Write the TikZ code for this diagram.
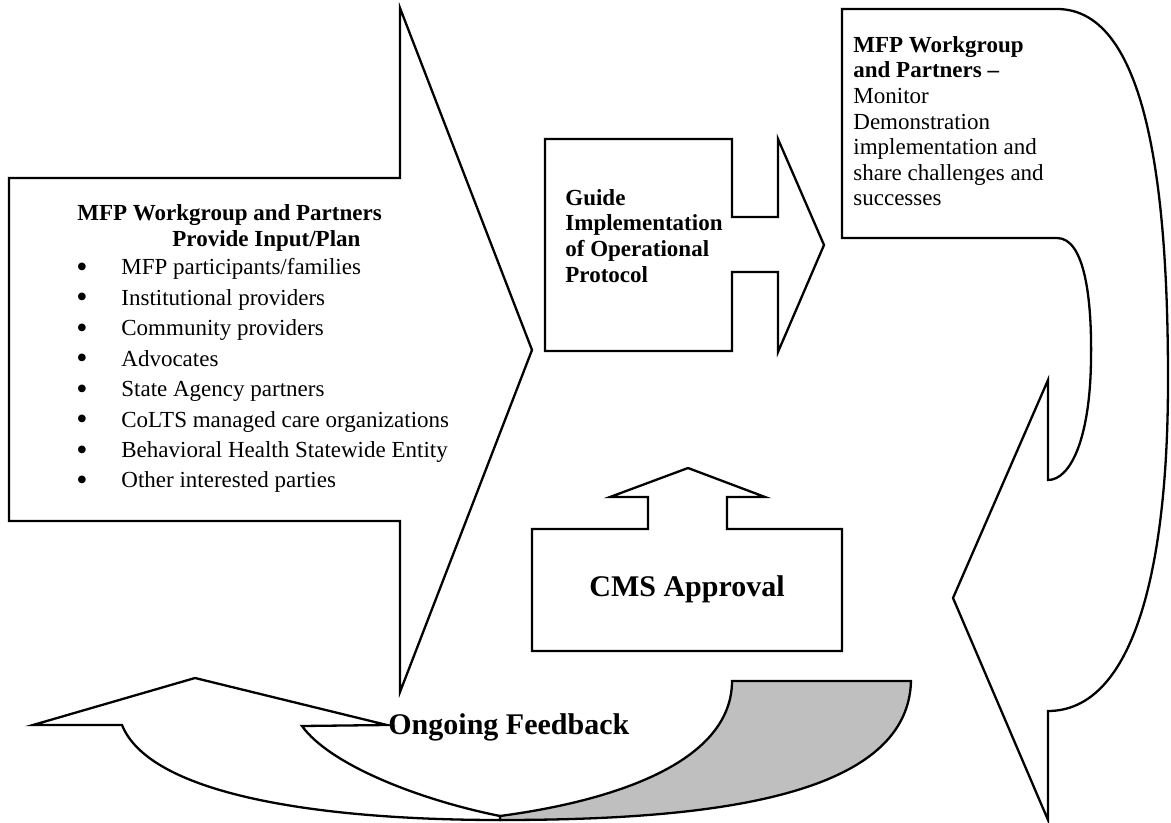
\documentclass[tikz,border=0pt]{standalone}
\usepackage{fontspec}
\setmainfont{Liberation Serif}

\newcommand{\bulletitem}[1]{\makebox[22.5pt][l]{\raisebox{-1.3pt}{\fontsize{16}{16}\selectfont\textbullet}}#1}

\tikzset{
    block/.style={draw=black, line width=1.15pt, line join=miter, fill=white},
    plain text/.style={font=\fontsize{11.5}{12.8}\selectfont, inner sep=0pt, align=left},
    bold text/.style={plain text, font=\fontsize{11.5}{12.8}\selectfont\bfseries},
    big text/.style={font=\fontsize{15}{18}\selectfont\bfseries, inner sep=0pt},
}

\begin{document}
\begin{tikzpicture}[x=0.5pt,y=-0.5pt]
    \useasboundingbox (0,0) rectangle (1171,823);
    % input / plan arrow
    \draw[block] (9,178) -- (400,178) -- (400,8) -- (532,350) -- (400,692) -- (400,521) -- (9,521) -- cycle;
    % guide arrow
    \draw[block] (545,139) -- (732,139) -- (732,217) -- (778,217) -- (778,139) -- (824,245) -- (778,352) -- (778,272) -- (732,272) -- (732,351) -- (545,351) -- cycle;
    % monitor arrow, bent back to the left
    \draw[block] (842,9) -- (1057,9) .. controls (1150,9) and (1168,200) .. (1168,380) .. controls (1168,580) and (1130,711) .. (1048,711) -- (1048,820) -- (953,598) -- (1048,380) -- (1048,480) .. controls (1070,480) and (1090,440) .. (1091,360) .. controls (1092,300) and (1085,238) .. (1057,238) -- (842,238) -- cycle;
    % approval arrow
    \draw[block] (532,529) -- (648,529) -- (648,497) -- (610,497) -- (688,468) -- (765,497) -- (727,497) -- (727,529) -- (842,529) -- (842,651) -- (532,651) -- cycle;
    % feedback arrow: shaded back, white front
    \draw[block, fill=black!25] (732,681) -- (911,681) .. controls (908,800) and (700,820) .. (500,820) -- (500,816) .. controls (620,800) and (732,760) .. (732,681) -- cycle;
    \draw[block] (33,725) -- (195,678) -- (387,725) -- (302,726) .. controls (330,765) and (420,800) .. (500,816) -- (500,820) .. controls (320,820) and (150,795) .. (122,725) -- cycle;

    \node[bold text, anchor=base west] (plan title) at (77,221) {MFP Workgroup and Partners};
    \node[bold text, anchor=base west] (plan sub) at (172,247) {Provide Input/Plan};
    \node[plain text, anchor=base west] (item1) at (76,275) {\bulletitem{MFP participants/families}};
    \node[plain text, anchor=base west] (item2) at (76,305.4) {\bulletitem{Institutional providers}};
    \node[plain text, anchor=base west] (item3) at (76,335.8) {\bulletitem{Community providers}};
    \node[plain text, anchor=base west] (item4) at (76,366.2) {\bulletitem{Advocates}};
    \node[plain text, anchor=base west] (item5) at (76,396.6) {\bulletitem{State Agency partners}};
    \node[plain text, anchor=base west] (item6) at (76,427) {\bulletitem{CoLTS managed care organizations}};
    \node[plain text, anchor=base west] (item7) at (76,457.4) {\bulletitem{Behavioral Health Statewide Entity}};
    \node[plain text, anchor=base west] (item8) at (76,487.8) {\bulletitem{Other interested parties}};

    \node[bold text, anchor=north west] (guide) at (565,189) {Guide\\Implementation\\of Operational\\Protocol};
    \node[plain text, anchor=north west] (monitor) at (853,36) {\textbf{MFP Workgroup}\\\textbf{and Partners \textendash}\\Monitor\\Demonstration\\implementation and\\share challenges and\\successes};
    \node[big text, anchor=base] (approval) at (687,596) {CMS Approval};
    \node[big text, anchor=base west] (feedback) at (388,734) {Ongoing Feedback};
\end{tikzpicture}
\end{document}
